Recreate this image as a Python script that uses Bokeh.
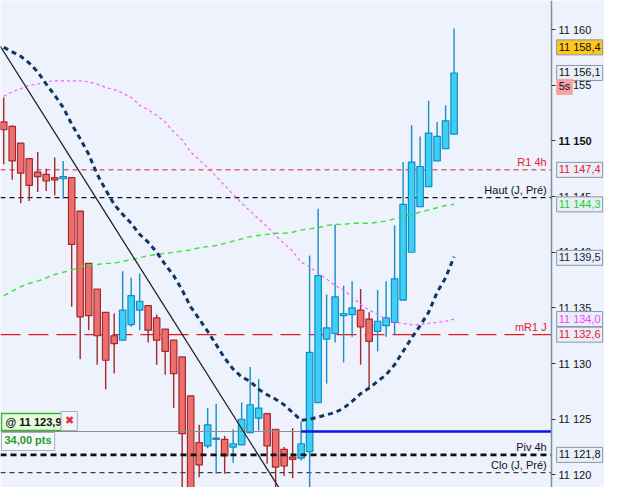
from bokeh.plotting import figure
from bokeh.models import Range1d, FixedTicker, Label, ColumnDataSource
from bokeh.embed import file_html
from bokeh.resources import INLINE

# ---------------- data ----------------
opens = [11151.7, 11151.3, 11149.8, 11148.4, 11147.2, 11147.0, 11146.7, 11146.6, 11146.7, 11143.7,
         11139.0, 11136.7, 11134.6, 11132.5, 11132.1, 11133.5, 11134.8, 11135.2, 11134.1, 11133.1,
         11132.1, 11130.6, 11127.1, 11122.9, 11122.6, 11123.2, 11123.2, 11122.5, 11122.7, 11123.8,
         11125.1, 11125.5, 11124.1, 11122.3, 11121.6, 11121.5, 11122.1, 11126.5, 11132.2, 11132.7,
         11134.3, 11134.4, 11134.8, 11134.0, 11132.9, 11133.4, 11133.7, 11135.7, 11140.0, 11144.1,
         11145.9, 11148.2, 11149.3, 11150.6]
closes = [11151.0, 11148.2, 11147.1, 11146.0, 11146.8, 11146.4, 11146.5, 11146.8, 11140.7, 11134.2,
          11134.3, 11132.5, 11130.3, 11131.8, 11134.8, 11136.1, 11135.6, 11133.0, 11132.1, 11131.1,
          11129.1, 11123.7, 11117.5, 11120.9, 11124.5, 11123.3, 11121.7, 11122.8, 11125.0, 11126.3,
          11126.0, 11122.6, 11120.7, 11120.8, 11121.4, 11122.8, 11131.0, 11137.9, 11133.2, 11136.0,
          11134.5, 11135.0, 11133.3, 11132.0, 11133.8, 11134.1, 11137.6, 11144.3, 11148.1, 11147.7,
          11150.7, 11150.4, 11151.8, 11156.1]
highs = [11153.9, 11151.4, 11149.8, 11148.4, 11149.0, 11147.5, 11148.5, 11148.2, 11146.7, 11143.7,
         11139.0, 11136.7, 11134.6, 11134.5, 11138.3, 11137.7, 11138.1, 11135.2, 11134.4, 11133.1,
         11132.1, 11130.6, 11127.1, 11124.5, 11126.0, 11126.4, 11123.5, 11124.1, 11126.5, 11129.7,
         11128.6, 11125.5, 11124.1, 11122.5, 11124.2, 11124.8, 11139.7, 11143.9, 11136.2, 11142.5,
         11137.0, 11137.4, 11136.7, 11134.6, 11136.6, 11137.4, 11142.4, 11148.1, 11151.4, 11150.4,
         11153.6, 11151.7, 11153.2, 11160.1]
lows = [11147.9, 11146.5, 11144.4, 11144.6, 11145.4, 11145.5, 11145.1, 11144.8, 11135.1, 11130.4,
        11133.0, 11129.9, 11127.7, 11129.1, 11132.1, 11133.3, 11133.0, 11131.9, 11129.9, 11129.0,
        11126.0, 11118.0, 11116.0, 11119.8, 11122.4, 11120.1, 11120.1, 11121.1, 11122.7, 11123.8,
        11124.0, 11121.0, 11118.3, 11119.9, 11119.7, 11121.3, 11117.8, 11126.5, 11128.2, 11131.9,
        11130.1, 11132.4, 11129.9, 11127.7, 11131.1, 11132.4, 11132.6, 11135.7, 11140.0, 11144.1,
        11145.9, 11148.2, 11149.3, 11150.6]

navy_ma = [11158.4, 11158.0, 11157.6, 11157.0, 11156.2, 11155.1, 11154.1, 11153.0, 11151.5, 11150.2,
           11148.8, 11147.0, 11145.6, 11144.3, 11143.4, 11142.6, 11141.6, 11140.9, 11140.0, 11138.9,
           11137.9, 11136.6, 11135.1, 11134.0, 11132.9, 11131.7, 11130.5, 11129.5, 11128.8, 11128.4,
           11127.7, 11127.2, 11126.8, 11126.3, 11125.6, 11124.9, 11125.0, 11125.2, 11125.4, 11125.6,
           11126.0, 11126.6, 11127.3, 11127.8, 11128.4, 11129.0, 11129.9, 11131.1, 11132.3, 11133.4,
           11134.6, 11136.4, 11137.7, 11139.6]
magenta_ma = [11154.0, 11154.4, 11154.7, 11155.0, 11155.1, 11155.3, 11155.4, 11155.4, 11155.4, 11155.4,
              11155.3, 11155.1, 11154.8, 11154.6, 11154.3, 11153.9, 11153.2, 11152.8, 11152.3, 11151.7,
              11150.8, 11150.1, 11149.0, 11148.3, 11147.6, 11146.8, 11146.0, 11145.2, 11144.4, 11143.7,
              11143.0, 11142.3, 11141.5, 11140.8, 11140.1, 11139.1, 11138.7, 11138.1, 11137.6, 11137.0,
              11136.6, 11136.0, 11135.3, 11134.8, 11134.4, 11134.0, 11133.7, 11133.6, 11133.5, 11133.5,
              11133.6, 11133.7, 11133.8, 11134.0]
green_ma = [11136.1, 11136.5, 11136.9, 11137.2, 11137.4, 11137.7, 11138.0, 11138.2, 11138.4, 11138.7,
            11138.8, 11138.9, 11139.0, 11139.0, 11139.2, 11139.3, 11139.5, 11139.7, 11139.8, 11139.9,
            11140.0, 11140.1, 11140.2, 11140.4, 11140.5, 11140.6, 11140.8, 11141.0, 11141.2, 11141.4,
            11141.5, 11141.6, 11141.7, 11141.7, 11141.8, 11142.0, 11142.1, 11142.2, 11142.4, 11142.5,
            11142.5, 11142.6, 11142.6, 11142.6, 11142.7, 11142.8, 11143.0, 11143.2, 11143.4, 11143.6,
            11143.8, 11144.0, 11144.2, 11144.3]

trend_x = [-0.4, 34.0]
trend_y = [11158.5, 11116.9]

r1_4h = 11147.4
haut_j = 11144.9
mr1_j = 11132.6
piv_4h = 11121.8
clo_j = 11120.2
order_level = 11123.9
order_start = 35

price_ticks = [11120, 11125, 11130, 11135, 11140, 11145, 11150, 11155, 11160]
tick_labels = ["11 120", "11 125", "11 130", "11 135", "11 140", "11 145", "11 150", "11 155", "11 160"]

box_values = [11158.4, 11156.1, 11147.4, 11144.3, 11139.5, 11134.0, 11132.6, 11121.8]
box_texts = ["11 158,4", "11 156,1", "11 147,4", "11 144,3", "11 139,5", "11 134,0", "11 132,6", "11 121,8"]
box_text_colors = ["#111111", "#111111", "#e8202a", "#1fd01f", "#1a2440", "#ff3cff", "#e8202a", "#111111"]
box_fills = ["#ffc61e", "#e9eff9", "#e9eff9", "#e9eff9", "#e9eff9", "#e9eff9", "#e9eff9", "#e9eff9"]

# ---------------- figure ----------------
FONT = "Liberation Sans"
x_lo, x_axis, x_hi = -0.378, 64.46, 70.70
p = figure(width=604, height=487, output_backend="svg", toolbar_location=None,
           x_range=Range1d(x_lo, x_hi), y_range=Range1d(11118.87, 11162.61),
           x_axis_location=None, y_axis_location="right",
           min_border_left=0, min_border_top=0, min_border_bottom=0, min_border_right=0)
p.background_fill_color = "#edf2fc"
p.border_fill_color = "#eef2fa"
p.outline_line_color = None
p.xgrid.visible = False
p.ygrid.visible = False

ax = p.yaxis[0]
ax.fixed_location = x_axis
ax.ticker = FixedTicker(ticks=price_ticks)
ax.major_label_overrides = {t: (lab if t != 11150 else "") for t, lab in zip(price_ticks, tick_labels)}
ax.major_label_text_font = FONT
ax.major_label_text_font_size = "11px"
ax.major_label_text_color = "#111111"
ax.major_label_standoff = 3
ax.major_tick_out = 4
ax.major_tick_in = 0
ax.minor_tick_out = 0
ax.minor_tick_in = 0
ax.major_tick_line_color = "#333333"
ax.axis_line_color = "#7f8e9d"
ax.axis_line_width = 1.5


def hline(level, **kw):
    p.segment(x0=[x_lo], y0=[level], x1=[x_axis], y1=[level], **kw)


# horizontal reference lines
hline(r1_4h, line_color="#e02020", line_width=1, line_dash="5 4")
hline(haut_j, line_color="#111111", line_width=1.2, line_dash="5 4")
hline(mr1_j, line_color="#e02020", line_width=1.3, line_dash="20 8")
hline(clo_j, line_color="#111111", line_width=1, line_dash="5 4")

# candles
idx = list(range(len(opens)))
up = [c >= o for o, c in zip(opens, closes)]
src = ColumnDataSource(dict(
    x=idx,
    top=[max(o, c) for o, c in zip(opens, closes)],
    bottom=[min(o, c) for o, c in zip(opens, closes)],
    high=highs, low=lows,
    fill=["#3fcff4" if u else "#ec6e6e" for u in up],
    edge=["#0c8fc6" if u else "#a8292b" for u in up],
    wick=["#1a8dc2" if u else "#a22a2a" for u in up],
))
p.segment(x0="x", y0="low", x1="x", y1="high", line_color="wick", line_width=1.4, source=src)
p.vbar(x="x", width=0.76, top="top", bottom="bottom", fill_color="fill", line_color="edge",
       line_width=1.2, source=src)

# order / position line
p.segment(x0=[x_lo], y0=[order_level], x1=[order_start], y1=[order_level], line_color="#8c8c8c", line_width=1.2)
p.segment(x0=[order_start], y0=[order_level], x1=[x_axis], y1=[order_level], line_color="#0a14e6", line_width=2.6)
hline(piv_4h, line_color="#111111", line_width=2.6, line_dash="6 4")

# indicator curves
p.line(idx, green_ma, line_color="#35e835", line_width=1.4, line_dash="5 4")
p.line(idx, magenta_ma, line_color="#ff5cff", line_width=1.2, line_dash="3 3")
p.line(trend_x, trend_y, line_color="#222222", line_width=1.3)
p.line(idx, navy_ma, line_color="#103763", line_width=3, line_dash="5 4")

# line captions
caption_x = 63.9
for txt, lvl, col in [("R1 4h", r1_4h, "#e8202a"), ("Haut (J, Pré)", haut_j, "#111111"),
                      ("mR1 J", mr1_j, "#e8202a"), ("Piv 4h", piv_4h, "#111111"),
                      ("Clo (J, Pré)", clo_j, "#111111")]:
    p.add_layout(Label(x=caption_x, y=lvl, text=txt, text_align="right", text_baseline="bottom",
                       y_offset=2, text_font=FONT, text_font_size="11px", text_color=col))

# price boxes on the axis
box_x = 65.07
p.add_layout(Label(x=65.3, y=11150, text="11 150", text_align="left", text_baseline="middle",
                   text_font=FONT, text_font_size="11px", text_font_style="bold", text_color="#111111"))
for val, txt, tc, fc in zip(box_values, box_texts, box_text_colors, box_fills):
    p.add_layout(Label(x=box_x, y=val, text=txt, text_align="left", text_baseline="middle",
                       text_font=FONT, text_font_size="11px", text_color=tc,
                       background_fill_color=fc, border_line_color="#8797a8", border_line_width=1,
                       padding=(2, 2, 1, 2)))
p.add_layout(Label(x=box_x, y=11154.85, text="5s", text_align="left", text_baseline="middle",
                   text_font=FONT, text_font_size="11px", text_color="#111111",
                   background_fill_color="#f3a3a3", border_line_color="#f3a3a3", padding=(2, 2, 1, 2)))

# order widget (bottom left)
p.add_layout(Label(x=x_lo, y=order_level, text="@ 11 123,9", text_align="left", text_baseline="bottom",
                   x_offset=1, y_offset=1, text_font=FONT, text_font_size="11px", text_font_style="bold",
                   text_color="#111111", background_fill_color="#e6fadc", border_line_color="#3cb43c",
                   border_line_width=1.5, padding=(4, 2, 3, 2)))
p.add_layout(Label(x=6.75, y=order_level, text="✖", text_align="left", text_baseline="bottom",
                   y_offset=1, text_font="DejaVu Sans", text_font_size="11px", text_color="#e03030",
                   background_fill_color="#f2f4f8", border_line_color="#a8b0bc", padding=(4, 3, 3, 3)))
p.add_layout(Label(x=x_lo, y=order_level, text="34,00 pts", text_align="left", text_baseline="top",
                   x_offset=1, y_offset=-1, text_font=FONT, text_font_size="11px", text_font_style="bold",
                   text_color="#2a9a2a", background_fill_color="#f6f8fc", border_line_color="#a8b0bc",
                   padding=(3, 3, 2, 4)))

open("out.html", "w").write(file_html(p, INLINE))
